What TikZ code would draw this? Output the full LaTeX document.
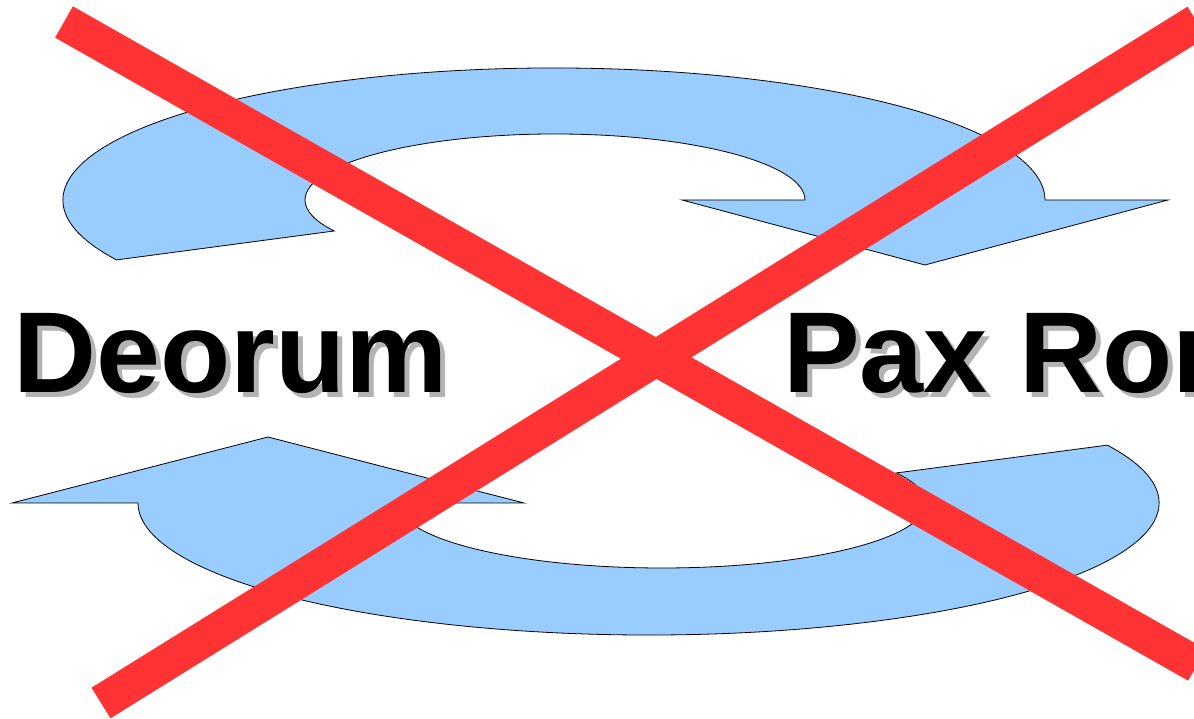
\documentclass[tikz,border=0pt]{standalone}
\usepackage{fontspec}
\setmainfont{Liberation Sans}
\usetikzlibrary{calc}
\definecolor{arrowblue}{HTML}{99CCFF}
\definecolor{xred}{HTML}{FF3333}
\definecolor{shadowgrey}{HTML}{B3B3B3}
\begin{document}
\begin{tikzpicture}[x=1pt,y=1pt,
  band/.style={fill=arrowblue, draw=black, line width=0.8pt, line join=miter},
  cross/.style={draw=xred, line width=36pt},
  bigword/.style={font=\fontsize{115}{115}\selectfont\bfseries, inner sep=0pt, anchor=base west},
]
\useasboundingbox (0,0) rectangle (1194,719);
\clip (0,0) rectangle (1194,719);
\fill[white] (0,0) rectangle (1194,719);
% top curved arrow
\path[band] ($(554,519)+(207:491pt and 132pt)$)
  arc[start angle=207, end angle=0, x radius=491pt, y radius=132pt]
  -- (1168,519) -- (925,454) -- (682,519)
  -- ($(555,519)+(0:250pt and 66pt)$)
  arc[start angle=0, end angle=208, x radius=250pt, y radius=66pt]
  -- cycle;
% bottom curved arrow
\path[band] ($(648.5,216)+(26:510.5pt and 132pt)$)
  arc[start angle=26, end angle=-180, x radius=510.5pt, y radius=132pt]
  -- (12,216) -- (268,282) -- (524,216)
  -- ($(662,216)+(180:264pt and 65pt)$)
  arc[start angle=180, end angle=387.5, x radius=264pt, y radius=65pt]
  -- cycle;
% words with shadows
\node[bigword, text=shadowgrey] (deorumshadow) at (18,321) {Deorum};
\node[bigword] (deorum) at (13,326) {Deorum};
\node[bigword, text=shadowgrey] (paxshadow) at (788,321) {Pax Romana};
\node[bigword] (pax) at (783,326) {Pax Romana};
% red cross
\coordinate (xa1) at (64,697);
\coordinate (xa2) at (1197,54);
\coordinate (xb1) at (101,16);
\coordinate (xb2) at (1197,697);
\draw[cross] (xa1) -- (xa2);
\draw[cross] (xb1) -- (xb2);
\end{tikzpicture}
\end{document}
